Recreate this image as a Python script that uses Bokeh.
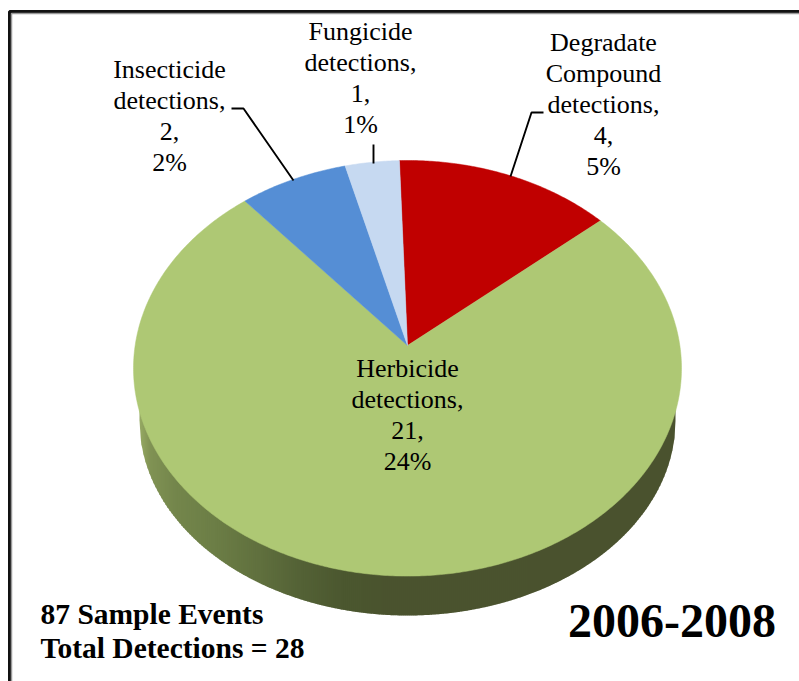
import numpy as np
from bokeh.embed import file_html
from bokeh.models import Range1d
from bokeh.plotting import figure
from bokeh.resources import INLINE
from bokeh.core.properties import value

# --- data ---
categories = ["Degradate Compound", "Herbicide", "Insecticide", "Fungicide"]
detections = [4, 21, 2, 1]
colors = ["#C00000", "#AEC874", "#558ED5", "#C6D9F1"]
labels = [
    ["Degradate", "Compound", "detections,", "4,", "5%"],
    ["Herbicide", "detections,", "21,", "24%"],
    ["Insecticide", "detections,", "2,", "2%"],
    ["Fungicide", "detections,", "1,", "1%"],
]
notes = ["87 Sample Events", "Total Detections = 28"]
period = "2006-2008"

# --- geometry (picture pixels) ---
W, H = 799, 681
OX, OY = 0, 0
FONT = "Liberation Serif"
cx, cy, rx, ry = 407.0, 367.8, 274.0, 207.8   # rim of the top face
ax, ay = 407.0, 345.0                         # apex of the slices
lx, ly, lrx, lry = 407.0, 420.0, 268.0, 195.0 # rim of the lower edge
start_deg = -1.9

p = figure(width=W, height=H, output_backend="svg", toolbar_location=None,
           x_range=Range1d(OX, OX + W), y_range=Range1d(OY + H, OY),
           min_border=0, outline_line_color=None)
p.xaxis.visible = False
p.yaxis.visible = False
p.grid.visible = False
p.background_fill_color = "white"
p.border_fill_color = "white"


def rim_point(theta):
    """Where the ray from the apex at angle theta (clockwise from top) meets the rim."""
    dx = np.sin(theta)
    dy = -np.cos(theta) * ry / rx
    ox, oy = (ax - cx) / rx, (ay - cy) / ry
    ux, uy = dx / rx, dy / ry
    a = ux * ux + uy * uy
    b = 2 * (ox * ux + oy * uy)
    c = ox * ox + oy * oy - 1
    t = (-b + np.sqrt(b * b - 4 * a * c)) / (2 * a)
    return ax + t * dx, ay + t * dy


# side wall: vertical strips shaded from left to right
wall_x = [139, 150, 175, 215, 260, 300, 340, 380, 675]
wall_c = [(150, 170, 100), (128, 146, 84), (116, 134, 76), (108, 126, 70),
          (96, 112, 62), (84, 98, 54), (76, 88, 48), (74, 84, 46), (74, 82, 46)]
xs_strip, ys_strip, cs_strip = [], [], []
edges = np.arange(lx - lrx, lx + lrx + 0.01, 2.0)
for e0, e1 in zip(edges[:-1], edges[1:]):
    mid = 0.5 * (e0 + e1)
    rgb = [int(np.interp(mid, wall_x, [c[i] for c in wall_c])) for i in range(3)]
    pts = np.linspace(e0, min(e1 + 0.8, lx + lrx), 3)
    yb = ly + lry * np.sqrt(np.clip(1 - ((pts - lx) / lrx) ** 2, 0, 1))
    xs_strip.append(list(pts) + [pts[-1], pts[0]])
    ys_strip.append(list(yb) + [380, 380])
    cs_strip.append("#%02X%02X%02X" % tuple(rgb))
p.patches(xs_strip, ys_strip, fill_color=cs_strip, line_color=None)

# top face: slices from the values
total = sum(detections)
ang = start_deg
for v, col in zip(detections, colors):
    sweep = 360.0 * v / total
    th = np.radians(np.linspace(ang, ang + sweep, max(int(sweep * 2), 8)))
    pts = [rim_point(t) for t in th]
    p.patch([ax] + [q[0] for q in pts], [ay] + [q[1] for q in pts],
            fill_color=col, line_color=col, line_width=0.5)
    ang += sweep

# leader lines
p.line([231, 243, 293], [108, 108, 180], line_color="black", line_width=1.9)
p.line([373, 373], [144, 163], line_color="black", line_width=1.9)
p.line([543, 531, 510], [112, 112, 176], line_color="black", line_width=1.9)

# data labels
anchors = [(603, 42), (407, 368), (169, 69), (360, 31)]
for (tx, ty), lines in zip(anchors, labels):
    p.text([tx] * len(lines), [ty + 31 * i for i in range(len(lines))], text=lines,
           text_font=value(FONT), text_font_size="26px", text_color="black",
           text_align="center", text_baseline="middle")

# notes
p.text([40, 40], [613.5, 647], text=notes, text_font=value(FONT), text_font_style="bold",
       text_font_size="29.5px", text_color="black", text_align="left", text_baseline="middle")
p.text([671.5], [620], text=[period], text_font=value(FONT), text_font_style="bold",
       text_font_size="48px", text_color="black", text_align="center", text_baseline="middle")

# frame: left and top rules
p.line([9, 9, 799], [681, 11, 11], line_color="#111111", line_width=3)
p.line([11, 11, 799], [681, 13, 13], line_color="#999999", line_width=1.5)

open("out.html", "w").write(file_html(p, INLINE))
